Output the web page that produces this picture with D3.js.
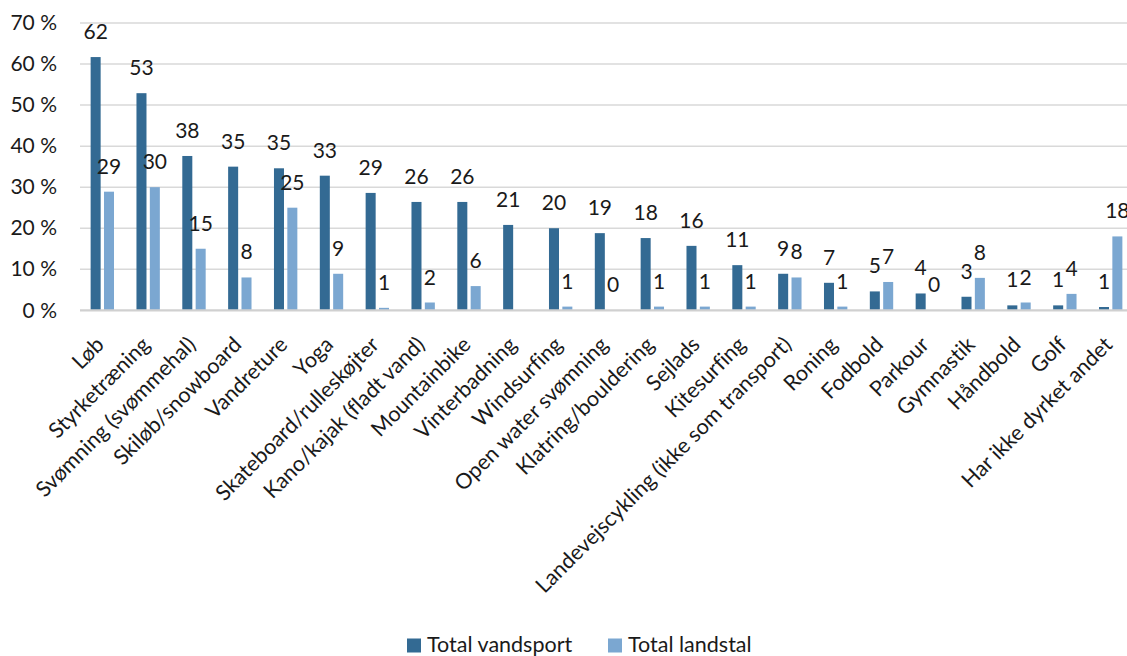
<!DOCTYPE html>
<html>
<head>
<meta charset="utf-8">
<script src="https://cdn.jsdelivr.net/npm/d3@7"></script>
<style>
  html, body { margin: 0; padding: 0; background: #fff; }
  svg { display: block; }
  text { font-family: Lato, "Open Sans", sans-serif; fill: #1a1a1a; font-variant-ligatures: none; }
</style>
</head>
<body>
<svg id="chart" width="1127" height="656"></svg>
<script>
const categories = ["Løb", "Styrketræning", "Svømning (svømmehal)", "Skiløb/snowboard", "Vandreture", "Yoga",
  "Skateboard/rulleskøjter", "Kano/kajak (fladt vand)", "Mountainbike", "Vinterbadning", "Windsurfing",
  "Open water svømning", "Klatring/bouldering", "Sejlads", "Kitesurfing", "Landevejscykling (ikke som transport)",
  "Roning", "Fodbold", "Parkour", "Gymnastik", "Håndbold", "Golf", "Har ikke dyrket andet"];
const seriesNames = ["Total vandsport", "Total landstal"];
const vandsport = [61.7, 52.9, 37.6, 35.0, 34.6, 32.8, 28.6, 26.4, 26.4, 20.8, 20.0, 18.8, 17.6, 15.7, 11.0, 8.9, 6.7, 4.6, 4.1, 3.3, 1.2, 1.2, 0.8];
const landstal = [28.9, 30.0, 15.0, 8.0, 25.0, 8.9, 0.6, 1.9, 5.9, null, 0.9, 0, 0.9, 0.9, 0.9, 8.0, 0.9, 6.9, 0, 7.9, 1.9, 4.0, 18.0];
const yTicks = [0, 10, 20, 30, 40, 50, 60, 70];
const colors = ["#336A93", "#7BA7D1"];

const svg = d3.select("#chart");
const x0 = d3.scaleBand().domain(categories).range([79.4, 1133.6]).paddingInner(0.49).paddingOuter(0.245);
const x1 = d3.scaleBand().domain(seriesNames).range([0, x0.bandwidth()]).paddingInner(0.25);
const y = d3.scaleLinear().domain([0, 70]).range([310.3, 23]);

// gridlines
svg.append("g").selectAll("line").data(yTicks.filter(d => d > 0)).join("line")
  .attr("x1", 80).attr("x2", 1127)
  .attr("y1", d => y(d)).attr("y2", d => y(d))
  .attr("stroke", "#D9D9D9").attr("stroke-width", 1.5);

// y axis labels
const yAxis = d3.axisLeft(y).tickValues(yTicks).tickSize(0).tickPadding(0).tickFormat(d => d + " %");
const yg = svg.append("g").attr("transform", "translate(57,0)").call(yAxis);
yg.select(".domain").remove();
yg.selectAll("text").attr("font-size", 21).attr("font-family", "Lato").attr("fill", "#1a1a1a");

const data = categories.map((c, i) => ({ cat: c, vals: [vandsport[i], landstal[i]] }));

const groups = svg.append("g").selectAll("g").data(data).join("g")
  .attr("transform", d => `translate(${x0(d.cat)},0)`);

groups.selectAll("rect").data(d => d.vals.map((v, j) => ({ v, s: seriesNames[j], j })).filter(e => e.v !== null))
  .join("rect")
  .attr("x", e => x1(e.s)).attr("width", x1.bandwidth())
  .attr("y", e => y(e.v)).attr("height", e => y(0) - y(e.v))
  .attr("fill", e => colors[e.j]);

groups.selectAll("text.val").data(d => d.vals.map((v, j) => ({ v, s: seriesNames[j], j })).filter(e => e.v !== null))
  .join("text").attr("class", "val")
  .attr("x", e => x1(e.s) + x1.bandwidth() / 2)
  .attr("y", e => y(e.v) - 18)
  .attr("text-anchor", "middle")
  .attr("font-size", 21)
  .text(e => Math.round(e.v));

// x axis baseline
svg.append("line").attr("x1", 80).attr("x2", 1127).attr("y1", y(0)).attr("y2", y(0))
  .attr("stroke", "#D0D0D0").attr("stroke-width", 2.2);

// category labels
svg.append("g").selectAll("text").data(categories).join("text")
  .attr("transform", d => `translate(${x0(d) + x0.bandwidth() / 2 + 3},346) rotate(-45)`)
  .attr("text-anchor", "end")
  .attr("font-size", 21.5)
  .text(d => d);

// legend
const legend = svg.append("g");
const legX = [407, 608];
seriesNames.forEach((s, i) => {
  legend.append("rect").attr("x", legX[i]).attr("y", 638.5).attr("width", 14).attr("height", 14).attr("fill", colors[i]);
  legend.append("text").attr("x", legX[i] + 20).attr("y", 652).attr("font-size", 21.5).text(s);
});
</script>
</body>
</html>
